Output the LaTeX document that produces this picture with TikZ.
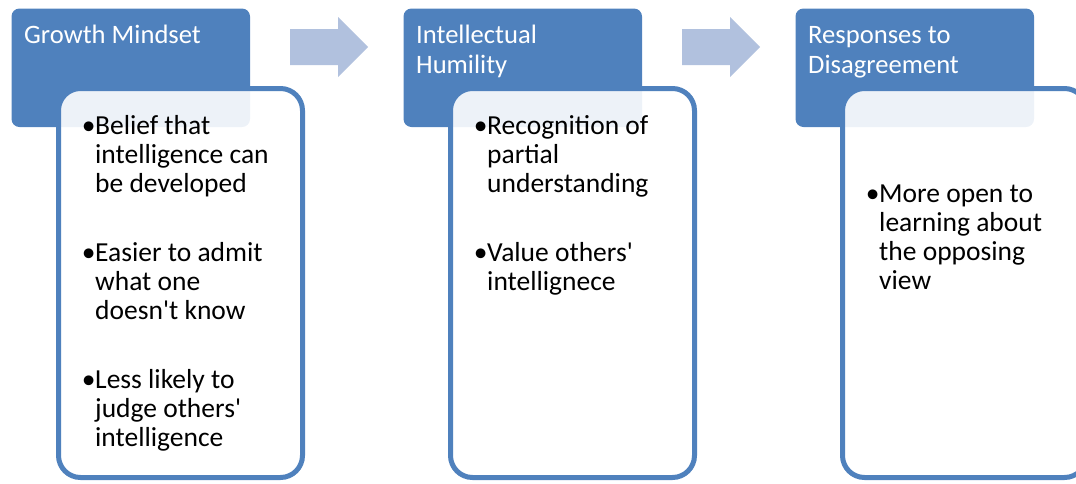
\documentclass[tikz,border=0pt]{standalone}
\usepackage{fontspec}
\setmainfont{Carlito}[Ligatures=TeXOff]
\definecolor{accent}{HTML}{4F81BD}
\definecolor{arrowblue}{HTML}{B1C1DE}
\newcommand{\itembullet}{\makebox[13pt][c]{•}}
\newcommand{\lines}[1]{\begin{tabular}[t]{@{}l@{}}#1\end{tabular}}
\begin{document}
\begin{tikzpicture}[x=1pt,y=-1pt,
  header/.style={fill=accent, rounded corners=8pt, anchor=north west,
    minimum width=238.5pt, minimum height=118.5pt, inner sep=0pt, outer sep=0pt},
  headtext/.style={anchor=base west, inner sep=0pt, text=white,
    font=\fontsize{26.6}{30}\selectfont},
  bodybox/.style={anchor=north west, draw=accent, line width=5pt, fill=white,
    fill opacity=0.9, rounded corners=22pt, minimum width=244pt,
    minimum height=389pt, inner sep=0pt, outer sep=0pt},
  bullettext/.style={anchor=base west, inner sep=0pt, text=black,
    font=\fontsize{27.5}{29}\selectfont},
  flowarrow/.style={fill=arrowblue}]
\useasboundingbox (0,0) rectangle (1076,483);
\clip (0,0) rectangle (1076,483);

% step arrows between the columns
\fill[flowarrow] (290,29) -- (338,29) -- (338,17) -- (368,47) -- (338,77) -- (338,65) -- (290,65) -- cycle;
\fill[flowarrow] (682,29) -- (730,29) -- (730,17) -- (760,47) -- (730,77) -- (730,65) -- (682,65) -- cycle;

% column 1
\node[header] (h1) at (11.5,8.5) {};
\node[bodybox] (c1) at (58.5,88.5) {};
\node[headtext] (t1) at (24,43) {\lines{Growth Mindset}};
\node[bullettext] (b1a) at (82,134) {\itembullet\lines{Belief that\\intelligence can\\be developed}};
\node[bullettext] (b1b) at (82,261) {\itembullet\lines{Easier to admit\\what one\\doesn't know}};
\node[bullettext] (b1c) at (82,388) {\itembullet\lines{Less likely to\\judge others'\\intelligence}};

% column 2
\node[header] (h2) at (403.5,8.5) {};
\node[bodybox] (c2) at (450.5,88.5) {};
\node[headtext] (t2) at (416,43) {\lines{Intellectual\\Humility}};
\node[bullettext] (b2a) at (474,134) {\itembullet\lines{Recognition of\\partial\\understanding}};
\node[bullettext] (b2b) at (474,261) {\itembullet\lines{Value others'\\intellignece}};

% column 3
\node[header] (h3) at (795.5,8.5) {};
\node[bodybox] (c3) at (842.5,88.5) {};
\node[headtext] (t3) at (808,43) {\lines{Responses to\\Disagreement}};
\node[bullettext] (b3a) at (866,202) {\itembullet\lines{More open to\\learning about\\the opposing\\view}};
\end{tikzpicture}
\end{document}
